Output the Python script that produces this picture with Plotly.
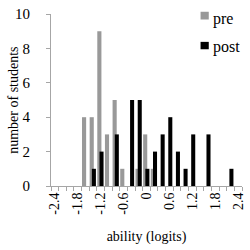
import plotly.graph_objects as go

ability = [-2.4, -2.2, -2.0, -1.8, -1.6, -1.4, -1.2, -1.0, -0.8, -0.6, -0.4, -0.2,
           0.0, 0.2, 0.4, 0.6, 0.8, 1.0, 1.2, 1.4, 1.6, 1.8, 2.0, 2.2, 2.4]
pre = [0, 0, 0, 0, 4, 4, 9, 3, 5, 1, 0, 1, 3, 1, 0, 0, 0, 0, 0, 0, 0, 0, 0, 0, 0]
post = [0, 0, 0, 0, 0, 1, 2, 0, 3, 0, 5, 5, 1, 2, 3, 4, 2, 1, 3, 0, 3, 0, 0, 1, 0]
tick_vals = [-2.4, -1.8, -1.2, -0.6, 0.0, 0.6, 1.2, 1.8, 2.4]
tick_text = ["-2.4", "-1.8", "-1.2", "-0.6", "0", "0.6", "1.2", "1.8", "2.4"]
series_names = ["pre", "post"]
series_colors = ["#999999", "#000000"]

FONT = "Liberation Serif"
AX = "#a6a6a6"

fig = go.Figure()
fig.add_trace(go.Bar(x=ability, y=pre, name=series_names[0], marker_color=series_colors[0],
                     marker_line_width=0, width=0.108, offset=-0.088))
fig.add_trace(go.Bar(x=ability, y=post, name=series_names[1], marker_color=series_colors[1],
                     marker_line_width=0, width=0.106, offset=-0.03))

# manual legend (small squares close to the text, as in the reference)
leg_y = [(1.013, 0.968, 0.972), (0.838, 0.795, 0.808)]
for name, col, (y1, y0, yt) in zip(series_names, series_colors, leg_y):
    fig.add_shape(type="rect", xref="paper", yref="paper", x0=0.783, x1=0.826,
                  y0=y0, y1=y1, fillcolor=col, line_width=0)
    fig.add_annotation(xref="paper", yref="paper", x=0.84, y=yt, text=name,
                       showarrow=False, xanchor="left", yanchor="middle",
                       font=dict(family=FONT, size=16, color="#000000"))

# y-axis title as a rotated annotation
fig.add_annotation(xref="paper", yref="paper", x=-0.2, y=0.5, text="number of students",
                   textangle=-90, showarrow=False, xanchor="center", yanchor="middle",
                   font=dict(family=FONT, size=14, color="#000000"))

fig.update_layout(
    width=250, height=250,
    margin=dict(l=51, r=8, t=14, b=64, autoexpand=False),
    paper_bgcolor="white", plot_bgcolor="white",
    barmode="overlay", hovermode=False,
    font=dict(family=FONT, size=13, color="#000000"),
    showlegend=False,
    xaxis=dict(range=[-2.5, 2.5], tickmode="array", tickvals=tick_vals,
               ticktext=tick_text, tickangle=-90, ticks="", showgrid=False,
               showline=True, linecolor=AX, linewidth=1, zeroline=False,
               automargin=False, tickfont=dict(family=FONT, size=14),
               minor=dict(ticks="outside", tick0=-2.5, dtick=0.2, ticklen=4,
                          tickcolor=AX, showgrid=False),
               title=dict(text="ability (logits)", font=dict(family=FONT, size=14),
                          standoff=17)),
    yaxis=dict(range=[0, 10], dtick=2, ticks="outside", ticklen=4, tickcolor=AX,
               showgrid=False, showline=True, linecolor=AX, linewidth=1,
               zeroline=False, ticklabelstandoff=13, automargin=False,
               tickfont=dict(family=FONT, size=15)),
)

fig.write_html("out.html", config={"displayModeBar": False, "staticPlot": True},
               post_script="document.body.style.margin='0';document.body.style.padding='0';")
